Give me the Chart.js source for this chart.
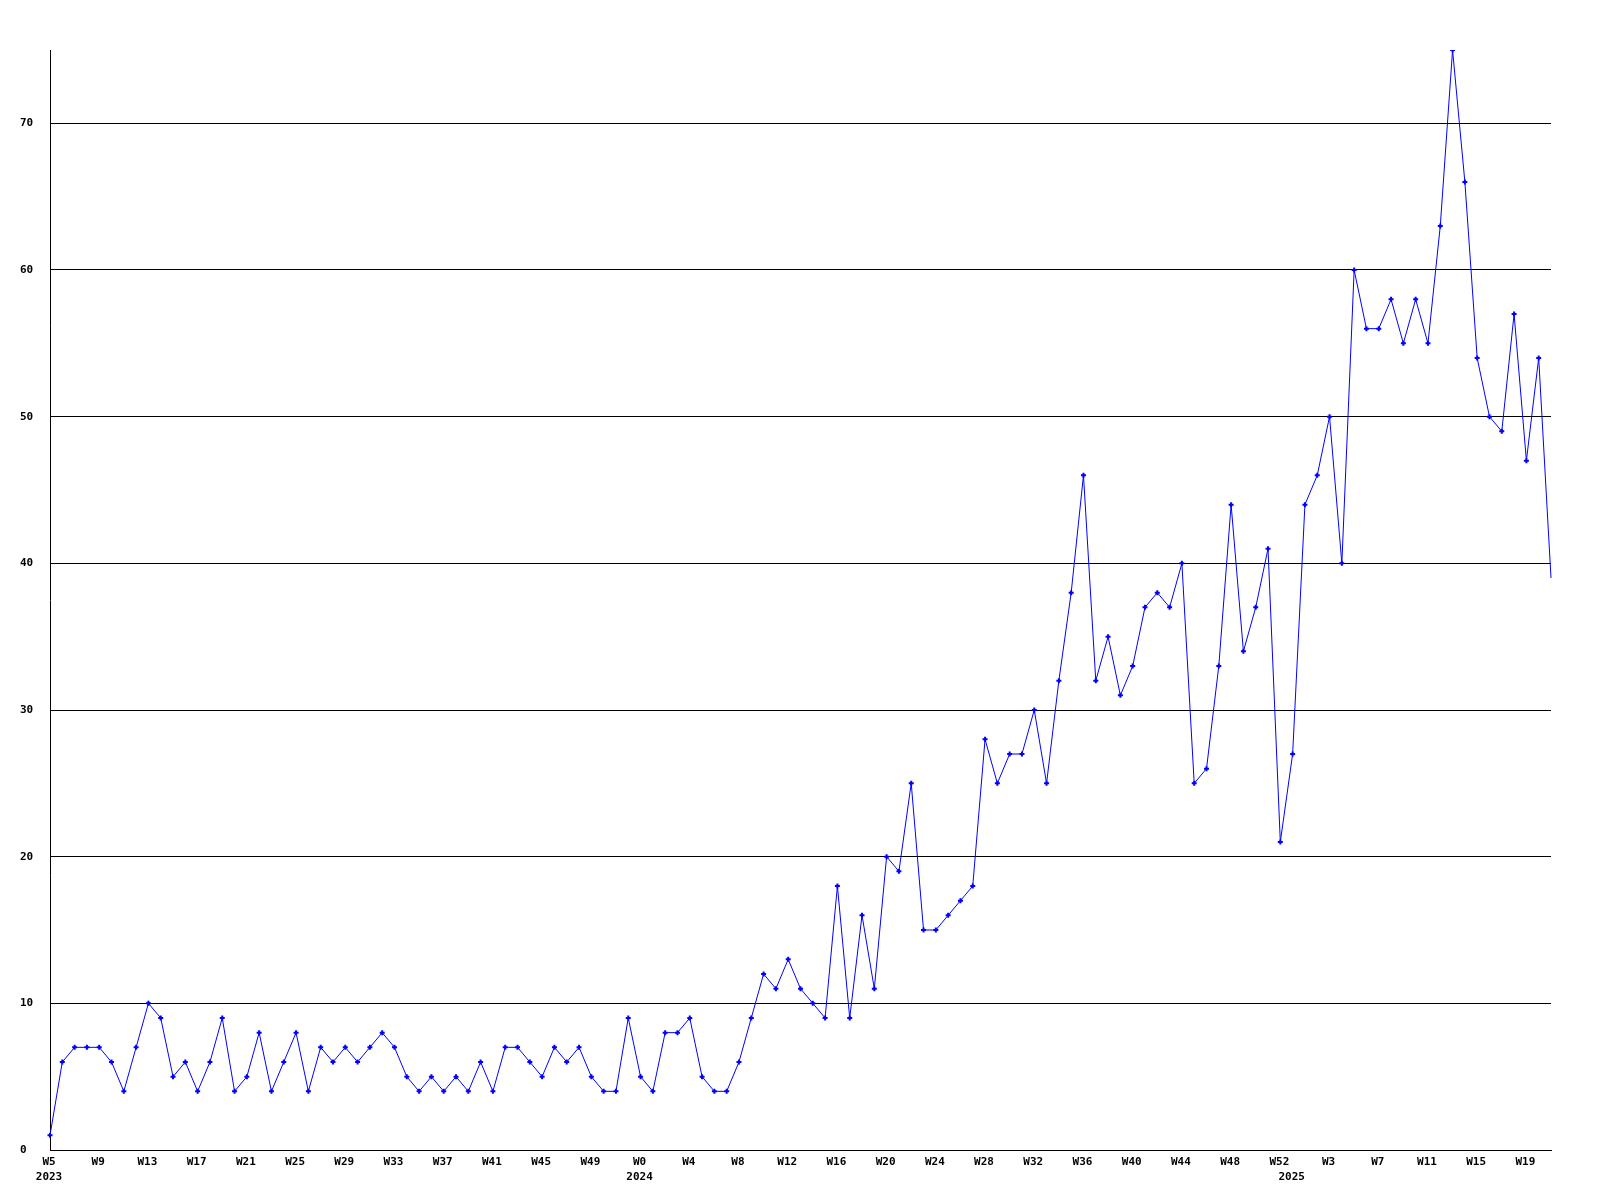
<!DOCTYPE html>
<html>
<head>
<meta charset="utf-8">
<script src="https://cdn.jsdelivr.net/npm/chart.js@4/dist/chart.umd.min.js"></script>
<style>
  html, body { margin: 0; padding: 0; background: #fff; }
  canvas { display: block; }
</style>
</head>
<body>
<canvas id="weeklyChart" width="1600" height="1200"></canvas>
<script>
// Semaines couvertes par année
const years = [2023, 2024, 2025];
const firstWeek = [5, 0, 0];
const lastWeek = [52, 52, 21];

// Valeurs hebdomadaires
const counts2023 = [1, 6, 7, 7, 7, 6, 4, 7, 10, 9, 5, 6, 4, 6, 9, 4, 5, 8, 4, 6,
                    8, 4, 7, 6, 7, 6, 7, 8, 7, 5, 4, 5, 4, 5, 4, 6, 4, 7, 7, 6,
                    5, 7, 6, 7, 5, 4, 4, 9];
const counts2024 = [5, 4, 8, 8, 9, 5, 4, 4, 6, 9, 12, 11, 13, 11, 10, 9, 18, 9, 16, 11,
                    20, 19, 25, 15, 15, 16, 17, 18, 28, 25, 27, 27, 30, 25, 32, 38, 46, 32, 35, 31,
                    33, 37, 38, 37, 40, 25, 26, 33, 44, 34, 37, 41, 21];
const counts2025 = [27, 44, 46, 50, 40, 60, 56, 56, 58, 55, 58, 55, 63, 75, 66, 54, 50, 49, 57, 47,
                    54, 39];

// Graduations de l'axe vertical
const yTicks = [0, 10, 20, 30, 40, 50, 60, 70];
const yMax = 75;

// Construction des catégories (semaine + année)
const weekLabels = [];
const yearOfPoint = [];
years.forEach((yr, i) => {
    for (let w = firstWeek[i]; w <= lastWeek[i]; w++) {
        weekLabels.push('W' + w);
        yearOfPoint.push(yr);
    }
});
const values = counts2023.concat(counts2024, counts2025);

const tickFont = { family: "'DejaVu Sans Mono', 'Liberation Mono', monospace", size: 11, weight: 'bold', lineHeight: 1.4 };

const ctx = document.getElementById('weeklyChart').getContext('2d');
new Chart(ctx, {
    type: 'line',
    data: {
        labels: weekLabels,
        datasets: [{
            data: values,
            borderColor: '#0000ff',
            backgroundColor: '#0000ff',
            borderWidth: 1,
            tension: 0,
            fill: false,
            pointStyle: 'cross',
            pointRadius: c => c.dataIndex === values.length - 1 ? 0 : 2.5,
            pointBorderWidth: 2,
            pointBorderColor: '#0000ff',
            pointBackgroundColor: '#0000ff'
        }]
    },
    options: {
        responsive: false,
        animation: false,
        events: [],
        layout: { padding: { top: 50, right: 49, left: 20, bottom: 0 } },
        plugins: {
            legend: { display: false },
            tooltip: { enabled: false }
        },
        scales: {
            x: {
                type: 'category',
                offset: false,
                grid: { display: false, drawTicks: false },
                border: { display: true, color: '#000', width: 1 },
                afterFit: s => { s.height = 50; },
                ticks: {
                    autoSkip: false,
                    maxRotation: 0,
                    minRotation: 0,
                    padding: 4,
                    labelOffset: -1,
                    color: '#000',
                    font: tickFont,
                    callback: function(value, index) {
                        const wk = index % 4 === 0 ? weekLabels[index] : '';
                        const newYear = index === 0 || yearOfPoint[index] !== yearOfPoint[index - 1];
                        if (newYear) return [wk, String(yearOfPoint[index])];
                        return wk;
                    }
                }
            },
            y: {
                min: 0,
                max: yMax,
                grid: { color: '#000', lineWidth: 1, drawTicks: false },
                border: { display: true, color: '#000', width: 1 },
                afterFit: s => { s.width = 30; },
                afterBuildTicks: s => { s.ticks = yTicks.map(v => ({ value: v })); },
                ticks: {
                    crossAlign: 'far',
                    padding: 16,
                    color: '#000',
                    font: { family: tickFont.family, size: 11, weight: 'bold' }
                }
            }
        }
    }
});
</script>
</body>
</html>
